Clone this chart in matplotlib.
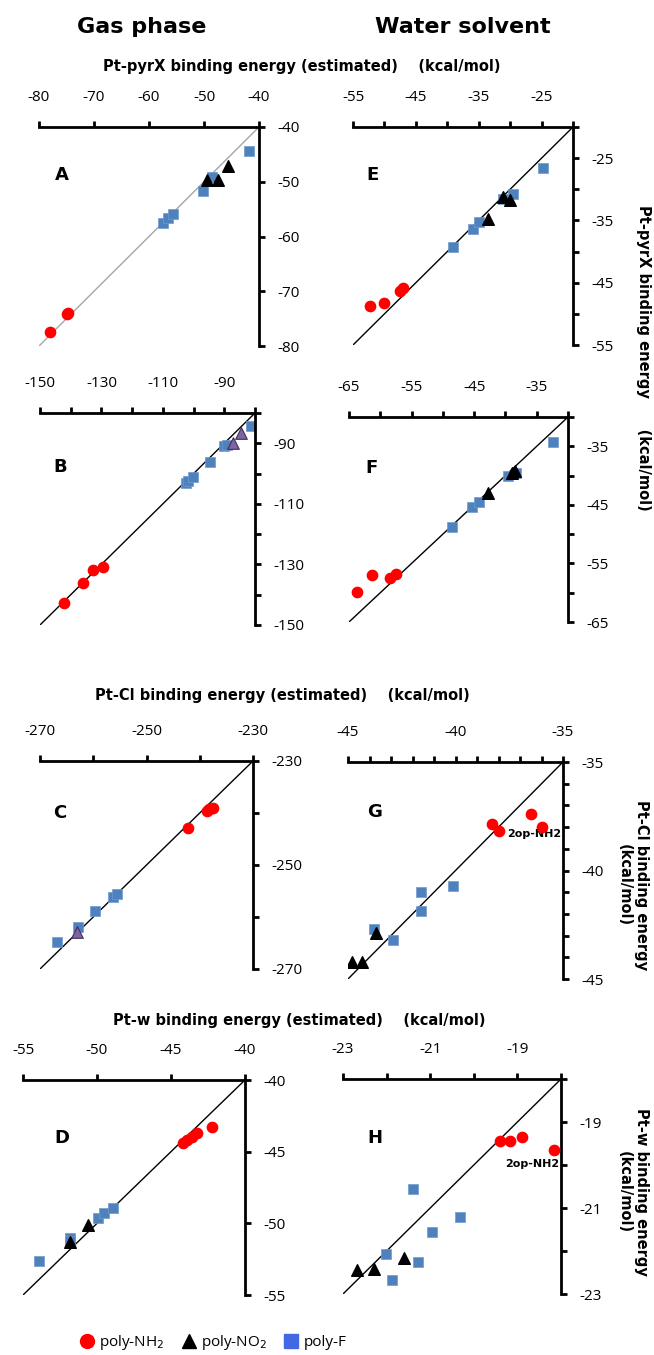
# Recreacion de la figura: energias de enlace estimadas vs calculadas (fase gas y agua)
import matplotlib.pyplot as plt
import numpy as np

W, H = 654, 1355

# ---- datos (x = estimada, y = calculada) ----
# A: Pt-pyrX, fase gas
a_nh2_x = [-78.0, -75.0, -74.7]
a_nh2_y = [-77.4, -74.2, -74.0]
a_no2_x = [-49.4, -47.4, -45.6]
a_no2_y = [-49.6, -49.6, -47.2]
a_f_x = [-57.4, -56.5, -55.6, -50.2, -48.5, -41.8]
a_f_y = [-57.5, -56.7, -55.8, -51.6, -49.2, -44.4]

# B: fase gas (segunda serie Pt-pyrX)
b_nh2_x = [-142.2, -136.1, -132.8, -129.6]
b_nh2_y = [-142.6, -136.0, -131.8, -130.9]
b_no2_x = [-87.3, -84.6]
b_no2_y = [-89.8, -86.7]
b_f_x = [-102.5, -101.7, -100.3, -94.6, -90.1, -89.2, -81.4]
b_f_y = [-103.0, -102.3, -101.0, -96.1, -90.9, -90.6, -84.3]

# C: Pt-Cl, fase gas
c_nh2_x = [-242.2, -238.7, -238.2, -237.6]
c_nh2_y = [-242.8, -239.7, -239.3, -239.0]
c_no2_x = [-263.0]
c_no2_y = [-262.9]
c_f_x = [-266.9, -262.8, -259.7, -256.2, -255.6]
c_f_y = [-264.9, -261.9, -258.8, -256.2, -255.5]

# D: Pt-w, fase gas
d_nh2_x = [-44.2, -43.9, -43.6, -43.26, -42.25]
d_nh2_y = [-44.4, -44.2, -43.95, -43.67, -43.3]
d_no2_x = [-51.8, -50.6]
d_no2_y = [-51.3, -50.1]
d_f_x = [-53.9, -51.8, -51.8, -49.9, -49.5, -48.9]
d_f_y = [-52.6, -51.0, -51.2, -49.6, -49.25, -48.9]

# E: Pt-pyrX, agua
e_nh2_x = [-52.3, -50.0, -47.6, -47.1]
e_nh2_y = [-48.8, -48.3, -46.4, -45.9]
e_no2_x = [-33.5, -31.2, -30.1]
e_no2_y = [-34.8, -31.3, -31.7]
e_f_x = [-39.1, -35.9, -35.0, -31.2, -29.6, -24.7]
e_f_y = [-39.2, -36.3, -35.2, -31.6, -30.8, -26.6]

# F: agua (segunda serie Pt-pyrX)
f_nh2_x = [-63.8, -61.4, -58.4, -57.5]
f_nh2_y = [-59.8, -56.9, -57.5, -56.8]
f_no2_x = [-42.8, -38.9, -38.5]
f_no2_y = [-43.0, -39.6, -39.3]
f_f_x = [-48.5, -45.3, -44.2, -39.6, -38.3, -32.4]
f_f_y = [-48.8, -45.4, -44.5, -40.0, -39.6, -34.2]

# G: Pt-Cl, agua
g_nh2_x = [-38.3, -38.0, -36.5, -36.0]
g_nh2_y = [-37.85, -38.2, -37.4, -38.0]
g_no2_x = [-44.8, -44.35, -43.7]
g_no2_y = [-44.2, -44.2, -42.9]
g_f_x = [-43.8, -42.9, -41.6, -41.6, -40.1]
g_f_y = [-42.7, -43.2, -41.85, -41.0, -40.7]

# H: Pt-w, agua
h_nh2_x = [-19.39, -19.17, -18.89, -18.15]
h_nh2_y = [-19.45, -19.45, -19.35, -19.64]
h_no2_x = [-22.67, -22.30, -21.60]
h_no2_y = [-22.44, -22.43, -22.16]
h_f_x = [-22.02, -21.87, -21.40, -21.27, -20.96, -20.31]
h_f_y = [-22.08, -22.68, -20.55, -22.25, -21.55, -21.21]

RED = "#FF0000"
BLUE = "#4F81BD"
PURPLE = "#8064A2"
TICKFONT = "Open Sans"

fig = plt.figure(figsize=(W / 100, H / 100), dpi=100)


def px_text(x, y, s, **kw):
    fig.text(x / W, 1 - y / H, s, **kw)


def draw_panel(rect, lim, step, xlabs, ylabs, nh2, no2, f, letter, letter_pos,
               tri_color="black", line_color="black", note=None):
    l, t, r, b = rect
    ax = fig.add_axes([l / W, 1 - b / H, (r - l) / W, (b - t) / H])
    ax.set_xlim(lim)
    ax.set_ylim(lim)

    # linea y = x de esquina a esquina
    ax.plot(lim, lim, color=line_color, lw=1.0, zorder=1)

    ax.scatter(f[0], f[1], marker="s", s=48, color=BLUE, edgecolors="#6F9AD0",
               linewidths=0.5, zorder=2)
    if tri_color == "black":
        ax.scatter(no2[0], no2[1], marker="^", s=70, color="black", zorder=3)
    else:
        ax.scatter(no2[0], no2[1], marker="^", s=70, color=tri_color,
                   edgecolors="#3F3060", linewidths=0.8, zorder=3)
    ax.scatter(nh2[0], nh2[1], marker="o", s=55, color=RED, zorder=4)

    for side in ["left", "bottom"]:
        ax.spines[side].set_visible(False)
    for side in ["top", "right"]:
        ax.spines[side].set_linewidth(2.0)

    ticks = np.arange(lim[0], lim[1] + step / 2, step)
    xl = [("%d" % v if round(v) in xlabs else "") for v in ticks]
    yl = [("%d" % v if round(v) in ylabs else "") for v in ticks]
    ax.set_xticks(ticks)
    ax.set_xticklabels(xl, fontfamily=TICKFONT, fontsize=11)
    ax.set_yticks(ticks)
    ax.set_yticklabels(yl, fontfamily=TICKFONT, fontsize=11)
    ax.xaxis.tick_top()
    ax.yaxis.tick_right()
    ax.tick_params(axis="x", direction="out", length=4, width=2.0, pad=12)
    ax.tick_params(axis="y", direction="out", length=4, width=2.0, pad=9)

    ax.text(letter_pos[0], letter_pos[1], letter, transform=ax.transAxes,
            fontsize=13, fontweight="bold", ha="center", va="center")
    if note:
        ax.text(note[0], note[1], "2op-NH2", fontsize=8, fontweight="bold",
                ha="right", va="center")
    return ax


# columna izquierda: fase gas
draw_panel((39, 127, 259, 346), (-80, -40), 10, [-80, -70, -60, -50, -40],
           [-40, -50, -60, -70, -80], (a_nh2_x, a_nh2_y), (a_no2_x, a_no2_y),
           (a_f_x, a_f_y), "A", (0.105, 0.78), line_color="#A6A6A6")
draw_panel((40, 413, 255, 625), (-150, -80), 10, [-150, -130, -110, -90],
           [-90, -110, -130, -150], (b_nh2_x, b_nh2_y), (b_no2_x, b_no2_y),
           (b_f_x, b_f_y), "B", (0.093, 0.745), tri_color=PURPLE)
draw_panel((40, 761, 253, 969), (-270, -230), 10, [-270, -250, -230],
           [-230, -250, -270], (c_nh2_x, c_nh2_y), (c_no2_x, c_no2_y),
           (c_f_x, c_f_y), "C", (0.094, 0.75), tri_color=PURPLE)
draw_panel((23, 1080, 245, 1295), (-55, -40), 5, [-55, -50, -45, -40],
           [-40, -45, -50, -55], (d_nh2_x, d_nh2_y), (d_no2_x, d_no2_y),
           (d_f_x, d_f_y), "D", (0.176, 0.73))

# columna derecha: agua
draw_panel((353, 127, 573, 345), (-55, -20), 5, [-55, -45, -35, -25],
           [-25, -35, -45, -55], (e_nh2_x, e_nh2_y), (e_no2_x, e_no2_y),
           (e_f_x, e_f_y), "E", (0.09, 0.78))
draw_panel((349, 417, 568, 622), (-65, -30), 5, [-65, -55, -45, -35],
           [-35, -45, -55, -65], (f_nh2_x, f_nh2_y), (f_no2_x, f_no2_y),
           (f_f_x, f_f_y), "F", (0.105, 0.75))
draw_panel((348, 762, 563, 979), (-45, -35), 1, [-45, -40, -35],
           [-35, -40, -45], (g_nh2_x, g_nh2_y), (g_no2_x, g_no2_y),
           (g_f_x, g_f_y), "G", (0.125, 0.77), note=(-35.1, -38.3))
draw_panel((343, 1079, 561, 1294), (-23, -18), 1, [-23, -21, -19],
           [-19, -21, -23], (h_nh2_x, h_nh2_y), (h_no2_x, h_no2_y),
           (h_f_x, h_f_y), "H", (0.147, 0.725), note=(-18.05, -19.97))

# titulos
px_text(142, 33, "Gas phase", fontsize=16, fontweight="bold", ha="center", va="baseline")
px_text(463, 33, "Water solvent", fontsize=16, fontweight="bold", ha="center", va="baseline")

px_text(103, 66, "Pt-pyrX binding energy (estimated)    (kcal/mol)",
        fontsize=10.5, fontweight="bold", ha="left", va="center")
px_text(95, 695, "Pt-Cl binding energy (estimated)    (kcal/mol)",
        fontsize=10.5, fontweight="bold", ha="left", va="center")
px_text(113, 1021, "Pt-w binding energy (estimated)    (kcal/mol)",
        fontsize=10.5, fontweight="bold", ha="left", va="center")

px_text(644, 205, "Pt-pyrX binding energy      (kcal/mol)", fontsize=10.5,
        fontweight="bold", rotation=270, ha="center", va="top")
px_text(633, 885, "Pt-Cl binding energy\n(kcal/mol)", fontsize=10.5,
        fontweight="bold", rotation=270, ha="center", va="center",
        multialignment="center")
px_text(633, 1192, "Pt-w binding energy\n(kcal/mol)", fontsize=10.5,
        fontweight="bold", rotation=270, ha="center", va="center",
        multialignment="center")

# leyenda
h1 = plt.Line2D([], [], ls="", marker="o", ms=10, color=RED)
h2 = plt.Line2D([], [], ls="", marker="^", ms=10, color="black")
h3 = plt.Line2D([], [], ls="", marker="s", ms=10, color="#4169E1")
fig.legend([h1, h2, h3], ["poly-NH$_2$", "poly-NO$_2$", "poly-F"], ncol=3,
           loc="center", bbox_to_anchor=(212 / W, 1 - 1343 / H), frameon=False,
           handletextpad=0.2, columnspacing=1.0, handlelength=1.2,
           prop={"family": TICKFONT, "size": 11})

fig.savefig("out.png", dpi=100)
